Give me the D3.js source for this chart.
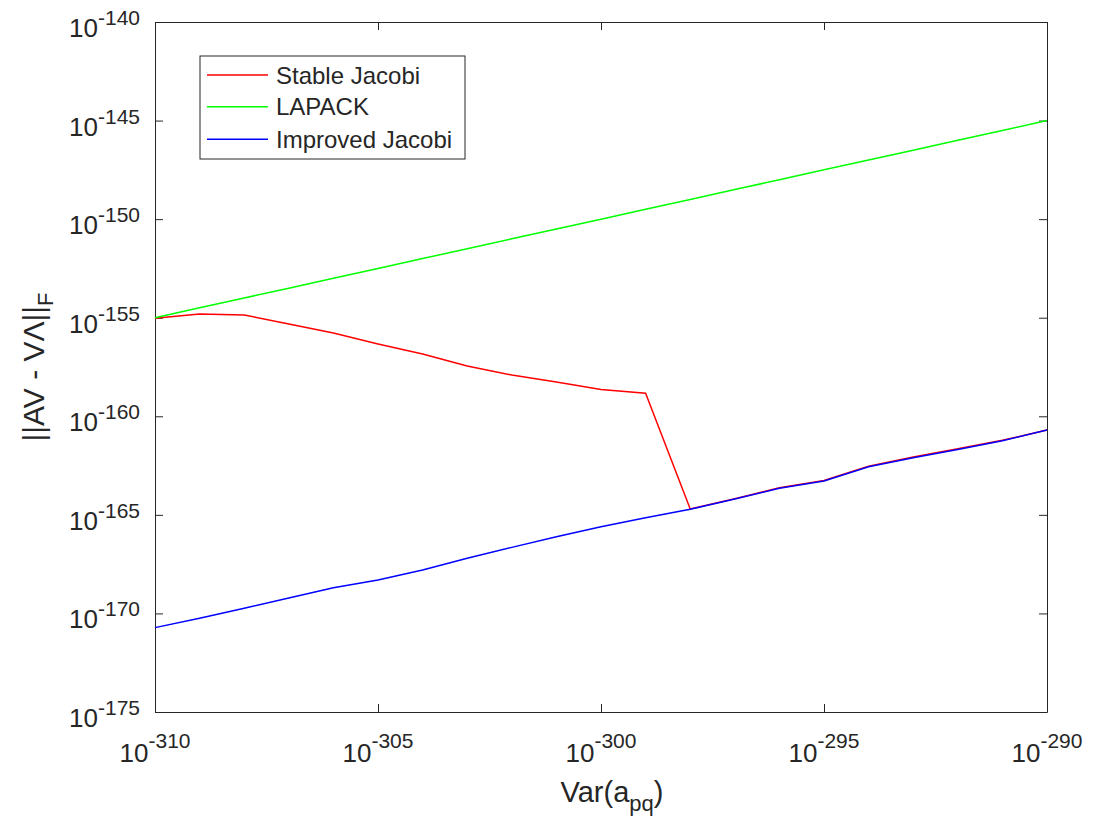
<!DOCTYPE html>
<html>
<head>
<meta charset="utf-8">
<script src="https://cdn.jsdelivr.net/npm/d3@7"></script>
<style>
    body { margin: 0; background: #fff; }
    svg { display: block; }
    text { font-family: "Liberation Sans", Arial, sans-serif; fill: #262626; }
</style>
</head>
<body>
<div id="chart"></div>
<script>
// values are log10 exponents (10^-310 does not fit nicely in a double)
const varExp = [-310, -309, -308, -307, -306, -305, -304, -303, -302, -301, -300,
                -299, -298, -297, -296, -295, -294, -293, -292, -291, -290];

const stableJacobi = [-155.03, -154.81, -154.86, -155.32, -155.78, -156.33, -156.84, -157.45, -157.91, -158.26, -158.64,
                      -158.83, -164.70, -164.18, -163.62, -163.26, -162.53, -162.06, -161.65, -161.22, -160.70];

const lapack = [-155.0, -154.5, -154.0, -153.5, -153.0, -152.5, -152.0, -151.5, -151.0, -150.5, -150.0,
                -149.5, -149.0, -148.5, -148.0, -147.5, -147.0, -146.5, -146.0, -145.5, -145.0];

const improvedJacobi = [-170.72, -170.24, -169.74, -169.22, -168.70, -168.30, -167.80, -167.20, -166.65, -166.11, -165.60,
                        -165.15, -164.72, -164.20, -163.65, -163.28, -162.56, -162.10, -161.68, -161.24, -160.70];

const seriesNames = ["Stable Jacobi", "LAPACK", "Improved Jacobi"];
const seriesColors = ["#ff0000", "#00ff00", "#0000ff"];

const xTicks = [-310, -305, -300, -295, -290];
const yTicks = [-175, -170, -165, -160, -155, -150, -145, -140];

const margin = {top: 22, right: 52, bottom: 112, left: 155};
const totalW = 1099, totalH = 824;
const width = totalW - margin.left - margin.right;
const height = totalH - margin.top - margin.bottom;

const svg = d3.select("#chart")
    .append("svg")
    .attr("width", totalW)
    .attr("height", totalH);

const g = svg.append("g")
    .attr("transform", `translate(${margin.left},${margin.top})`);

const x = d3.scaleLinear().domain([-310, -290]).range([0, width]);
const y = d3.scaleLinear().domain([-175, -140]).range([height, 0]);

const axisColor = "#262626";
const tickLen = 8;

// axes on all four sides, ticks pointing in, labels drawn separately
function styleAxis(sel) {
    sel.select(".domain").attr("stroke", axisColor).attr("stroke-width", 1);
    sel.selectAll(".tick line").attr("stroke", axisColor).attr("stroke-width", 1);
    sel.selectAll(".tick text").remove();
}

g.append("g").attr("transform", `translate(0,${height})`)
    .call(d3.axisBottom(x).tickValues(xTicks).tickSizeInner(-tickLen).tickSizeOuter(0))
    .call(styleAxis);
g.append("g")
    .call(d3.axisTop(x).tickValues(xTicks).tickSizeInner(-tickLen).tickSizeOuter(0))
    .call(styleAxis);
g.append("g")
    .call(d3.axisLeft(y).tickValues(yTicks).tickSizeInner(-tickLen).tickSizeOuter(0))
    .call(styleAxis);
g.append("g").attr("transform", `translate(${width},0)`)
    .call(d3.axisRight(y).tickValues(yTicks).tickSizeInner(-tickLen).tickSizeOuter(0))
    .call(styleAxis);

// tick labels 10^n
const xLab = g.selectAll(".xlab").data(xTicks).enter()
    .append("text")
    .attr("class", "xlab")
    .attr("x", d => x(d))
    .attr("y", height + 50)
    .attr("text-anchor", "middle")
    .style("font-size", "26px");
xLab.append("tspan").text("10");
xLab.append("tspan").attr("dy", -14).style("font-size", "21px").text(d => "-" + Math.abs(d));

const yLab = g.selectAll(".ylab").data(yTicks).enter()
    .append("text")
    .attr("class", "ylab")
    .attr("x", -15)
    .attr("y", d => y(d) + 15)
    .attr("text-anchor", "end")
    .style("font-size", "26px");
yLab.append("tspan").text("10");
yLab.append("tspan").attr("dy", -12).style("font-size", "21px").text(d => "-" + Math.abs(d));

// lines
const allSeries = [stableJacobi, lapack, improvedJacobi];
const line = d3.line()
    .x((d, i) => x(varExp[i]))
    .y(d => y(d));

g.selectAll(".series").data(allSeries).enter()
    .append("path")
    .attr("class", "series")
    .attr("d", d => line(d))
    .attr("fill", "none")
    .attr("stroke", (d, i) => seriesColors[i])
    .attr("stroke-width", 1.5);

// legend
const legend = svg.append("g").attr("transform", "translate(200,56)");
legend.append("rect")
    .attr("width", 265)
    .attr("height", 103)
    .attr("fill", "#fff")
    .attr("stroke", axisColor)
    .attr("stroke-width", 1);

const rowY = [19, 50.7, 83.3];
legend.selectAll(".legline").data(seriesNames).enter()
    .append("line")
    .attr("x1", 7).attr("x2", 68)
    .attr("y1", (d, i) => rowY[i]).attr("y2", (d, i) => rowY[i])
    .attr("stroke", (d, i) => seriesColors[i])
    .attr("stroke-width", 1.5);
legend.selectAll(".legtext").data(seriesNames).enter()
    .append("text")
    .attr("x", 76)
    .attr("y", (d, i) => rowY[i] + 8.5)
    .style("font-size", "24px")
    .text(d => d);

// axis titles
const xTitle = svg.append("text")
    .attr("x", 612)
    .attr("y", 802)
    .attr("text-anchor", "middle")
    .style("font-size", "29px");
xTitle.append("tspan").text("Var(a");
xTitle.append("tspan").attr("dy", 9).style("font-size", "22px").text("pq");
xTitle.append("tspan").attr("dy", -9).text(")");

const yTitle = svg.append("text")
    .attr("transform", `translate(44,${margin.top + height / 2}) rotate(-90)`)
    .attr("text-anchor", "middle")
    .style("font-size", "30px");
yTitle.append("tspan").text("||AV - VΛ||");
yTitle.append("tspan").attr("dy", 9).style("font-size", "22px").text("F");
</script>
</body>
</html>
